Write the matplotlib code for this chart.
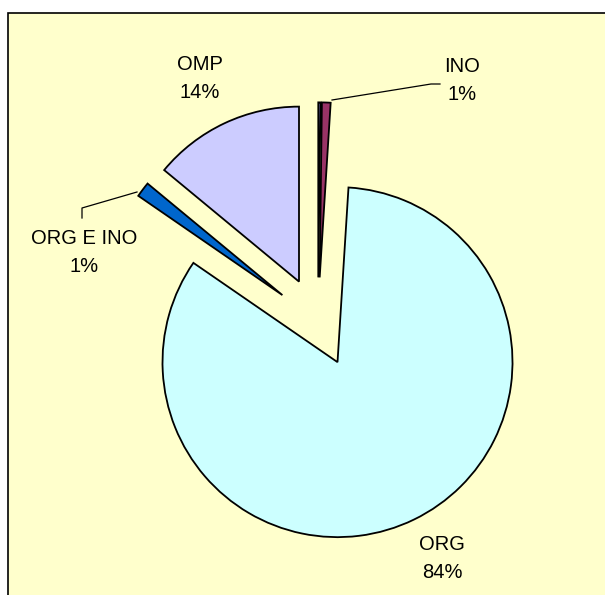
import matplotlib
matplotlib.use("Agg")
import matplotlib.pyplot as plt
from matplotlib.patches import Rectangle

plt.rcParams['font.family'] = ['Liberation Sans', 'DejaVu Sans']

# slice data, clockwise from 12 o'clock
categories = ['', 'INO', 'ORG', 'ORG E INO', 'OMP']
shares = [0.2, 0.8, 83.6, 1.4, 14.0]
colors = ['#9999FF', '#993366', '#CCFFFF', '#0066CC', '#CCCCFF']

W, H = 605, 595
R = 175  # pie radius in pixels

fig = plt.figure(figsize=(W / 100, H / 100), dpi=100)
fig.patch.set_facecolor('white')
ax = fig.add_axes([0, 0, 1, 1])

def py(y):
    # pixel row (from top) -> data y
    return H - y

# chart area
ax.add_patch(Rectangle((7.5, -20), W + 20, py(12.5) + 20, facecolor='#FFFFCC',
                       edgecolor='black', linewidth=1.2, zorder=0))

# explode is in data units, so scale by the radius
ax.pie(shares, colors=colors, explode=[0.255 * R] * len(shares), center=(318, py(322)),
       radius=R, startangle=90, counterclock=False,
       wedgeprops=dict(edgecolor='black', linewidth=1.3, zorder=2))

ax.set_xlim(0, W)
ax.set_ylim(0, H)
ax.set_aspect('equal')
ax.axis('off')

# label placement (pixel coords of label centre)
label_pos = {'INO': (462, 67), 'ORG': (442, 545), 'ORG E INO': (84, 239), 'OMP': (200, 65)}

for name, val in zip(categories, shares):
    if not name:
        continue
    x, y = label_pos[name]
    ax.text(x, py(y), name, ha='center', va='center', fontsize=14.5, zorder=3)
    ax.text(x, py(y + 28), f"{round(val):d}%", ha='center', va='center', fontsize=14.5, zorder=3)

# leader lines
ax.plot([332, 431, 440], [py(100), py(84), py(84)], color='black', linewidth=0.9, zorder=3)
ax.plot([137, 82, 82], [py(192), py(208), py(218)], color='black', linewidth=0.9, zorder=3)

fig.savefig('out.png', dpi=100, facecolor='white')
